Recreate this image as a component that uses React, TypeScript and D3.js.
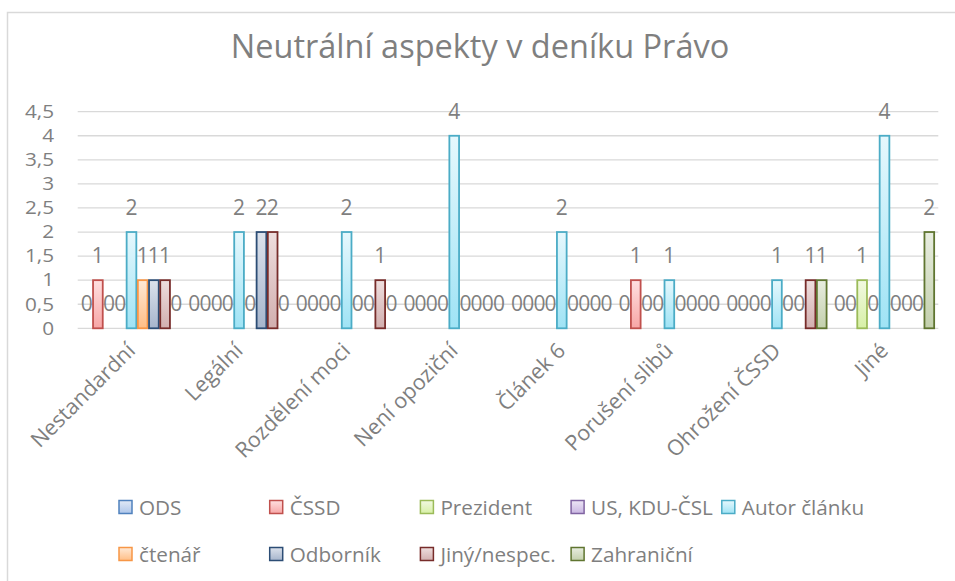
import React from "react";
import * as d3 from "d3";

const title = "Neutrální aspekty v deníku Právo";
const categories = [
  "Nestandardní",
  "Legální",
  "Rozdělení moci",
  "Není opoziční",
  "Článek 6",
  "Porušení slibů",
  "Ohrožení ČSSD",
  "Jiné",
];
const seriesNames = [
  "ODS",
  "ČSSD",
  "Prezident",
  "US, KDU-ČSL",
  "Autor článku",
  "čtenář",
  "Odborník",
  "Jiný/nespec.",
  "Zahraniční",
];
const odsValues = [0, 0, 0, 0, 0, 0, 0, 0];
const cssdValues = [1, 0, 0, 0, 0, 1, 0, 0];
const prezidentValues = [0, 0, 0, 0, 0, 0, 0, 1];
const usKduValues = [0, 0, 0, 0, 0, 0, 0, 0];
const autorValues = [2, 2, 2, 4, 2, 1, 1, 4];
const ctenarValues = [1, 0, 0, 0, 0, 0, 0, 0];
const odbornikValues = [1, 2, 0, 0, 0, 0, 0, 0];
const jinyValues = [1, 2, 1, 0, 0, 0, 1, 0];
const zahranicniValues = [0, 0, 0, 0, 0, 0, 1, 2];
const yTicks = [0, 0.5, 1, 1.5, 2, 2.5, 3, 3.5, 4, 4.5];

const seriesValues = [
  odsValues,
  cssdValues,
  prezidentValues,
  usKduValues,
  autorValues,
  ctenarValues,
  odbornikValues,
  jinyValues,
  zahranicniValues,
];

// styles: stroke, gradient top, gradient bottom
const strokeColors = ["#4F81BD", "#C0504D", "#9BBB59", "#8064A2", "#4BACC6", "#F79646", "#2C4D75", "#772C2A", "#5F7530"];
const fillTop = ["#E1E9F6", "#FFE0E0", "#F2F9E2", "#EDE6F5", "#E6F8FD", "#FFE9D6", "#DCE2EC", "#EEDEDE", "#E8EDE0"];
const fillBottom = ["#AEC6EA", "#F7A6A6", "#D7F0A6", "#C9B6E2", "#9FE3F5", "#FFBE86", "#A6B5CC", "#D2AFAF", "#C3D0AC"];

const textColor = "#7F7F7F";
const font = "'Open Sans', 'Noto Sans', sans-serif";

export default function App() {
  const W = 955;
  const H = 581;
  const plotLeft = 77.7;
  const plotRight = 938.3;
  const yTop = 111.7;
  const yBottom = 328.3;

  const x0 = d3.scaleBand<string>().domain(categories).range([plotLeft, plotRight]).paddingInner(0).paddingOuter(0);
  const x1 = d3
    .scaleBand<string>()
    .domain(seriesNames)
    .range([0, x0.bandwidth()])
    .paddingInner(0.134)
    .paddingOuter(0.37);
  const y = d3.scaleLinear().domain([0, 4.5]).range([yBottom, yTop]);
  const fmt = (v: number) => String(v).replace(".", ",");

  const legendCols = 5;
  const legendX0 = 119;
  const legendStep = 150.7;
  const legendRowY = [507, 554];

  return (
    <svg width={W} height={H} style={{ position: "absolute", left: 0, top: 0, background: "#fff" }} fontFamily={font}>
      <defs>
        {seriesNames.map((s, i) => (
          <linearGradient key={s} id={`g${i}`} x1="0" y1="0" x2="0" y2="1">
            <stop offset="0" stopColor={fillTop[i]} />
            <stop offset="1" stopColor={fillBottom[i]} />
          </linearGradient>
        ))}
      </defs>
      <rect x={0} y={0} width={W} height={H} fill="#fff" />
      <rect x={7.5} y={12.5} width={W + 20} height={H + 20} fill="#fff" stroke="#D9D9D9" strokeWidth={1.5} />

      <text x={480} y={58} textAnchor="middle" fontSize={32.5} fill={textColor}>
        {title}
      </text>

      {/* gridlines */}
      {yTicks.map((t) => (
        <line key={t} x1={plotLeft} x2={plotRight} y1={y(t)} y2={y(t)} stroke="#D9D9D9" strokeWidth={1.3} />
      ))}
      {yTicks.map((t) => (
        <text
          key={"l" + t}
          transform={`translate(54,${y(t) + 6.3}) scale(1.2,1)`}
          textAnchor="end"
          fontSize={17.3}
          fill={textColor}
        >
          {fmt(t)}
        </text>
      ))}

      {/* bars */}
      {categories.map((c, ci) => (
        <g key={c} transform={`translate(${x0(c)},0)`}>
          {seriesNames.map((s, si) => {
            const v = seriesValues[si][ci];
            const bx = x1(s) as number;
            const bw = x1.bandwidth();
            return (
              <g key={s}>
                {v > 0 && (
                  <rect
                    x={bx}
                    y={y(v)}
                    width={bw}
                    height={y(0) - y(v)}
                    fill={`url(#g${si})`}
                    stroke={strokeColors[si]}
                    strokeWidth={1.8}
                  />
                )}
                <text x={bx + bw / 2} y={y(v) - 17} textAnchor="middle" fontSize={21} fill={textColor}>
                  {fmt(v)}
                </text>
              </g>
            );
          })}
        </g>
      ))}

      {/* category labels */}
      {categories.map((c) => {
        const cx = (x0(c) as number) + x0.bandwidth() / 2;
        return (
          <text
            key={"c" + c}
            transform={`translate(${cx + 5},${352}) rotate(-45)`}
            textAnchor="end"
            fontSize={21.5}
            fill={textColor}
          >
            {c}
          </text>
        );
      })}

      {/* legend */}
      {seriesNames.map((s, i) => {
        const col = i % legendCols;
        const row = Math.floor(i / legendCols);
        const lx = legendX0 + col * legendStep;
        const ly = legendRowY[row];
        return (
          <g key={"lg" + s}>
            <rect x={lx} y={ly - 6.5} width={13} height={13} fill={`url(#g${i})`} stroke={strokeColors[i]} strokeWidth={1.5} />
            <text x={lx + 20} y={ly + 7.5} fontSize={20.7} fill={textColor}>
              {s}
            </text>
          </g>
        );
      })}
    </svg>
  );
}
